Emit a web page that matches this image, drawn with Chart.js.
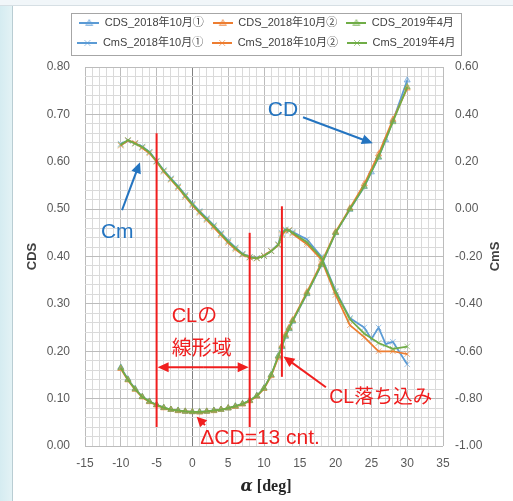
<!DOCTYPE html>
<html>
<head>
<meta charset="utf-8">
<script src="https://cdn.jsdelivr.net/npm/chart.js@4.4.0/dist/chart.umd.min.js"></script>
<style>
  html, body { margin: 0; padding: 0; }
  body {
    width: 513px; height: 501px; overflow: hidden;
    background:
      linear-gradient(#f1f6f9 0, #f1f6f9 5px, #d6dfe4 5px, #d6dfe4 6px, transparent 6px),
      linear-gradient(90deg, #d5ecf1 0, #e3f2f5 12px, #b9cdd3 12px, #b9cdd3 13px, #ffffff 13px);
  }
  canvas { display: block; }
</style>
</head>
<body>
<canvas id="myChart" width="513" height="501"></canvas>
<script>
// angle of attack [deg]
const alpha = [-10, -9, -8, -7, -6, -5, -4, -3, -2, -1, 0, 1, 2, 3, 4, 5, 6, 7, 8, 9, 10, 11, 12,
  12.5, 13, 13.5, 14, 16, 18, 20, 22, 24, 26, 28, 30];
const alphaBlue = [-10, -9, -8, -7, -6, -5, -4, -3, -2, -1, 0, 1, 2, 3, 4, 5, 6, 7, 8, 9, 10, 11, 12,
  12.5, 13, 13.5, 14, 16, 18, 20, 22, 24, 25, 26, 27, 28, 30];

// CDS (left axis)
const cdBlue = [0.166, 0.141, 0.121, 0.104, 0.094, 0.087, 0.081, 0.077, 0.075, 0.073, 0.072, 0.072, 0.073,
  0.075, 0.077, 0.080, 0.084, 0.089, 0.096, 0.106, 0.122, 0.150, 0.190,
  0.209, 0.231, 0.247, 0.263, 0.321, 0.382, 0.450, 0.499, 0.547, 0.578, 0.609, 0.646, 0.686, 0.772];
const cdOrange = [0.163, 0.139, 0.119, 0.103, 0.093, 0.086, 0.080, 0.077, 0.074, 0.073, 0.072, 0.071, 0.073,
  0.074, 0.077, 0.080, 0.083, 0.088, 0.095, 0.105, 0.121, 0.148, 0.187,
  0.212, 0.235, 0.250, 0.266, 0.325, 0.386, 0.452, 0.502, 0.553, 0.616, 0.689, 0.755];
const cdGreen = [0.165, 0.140, 0.120, 0.104, 0.094, 0.087, 0.081, 0.077, 0.075, 0.073, 0.072, 0.072, 0.073,
  0.075, 0.077, 0.080, 0.084, 0.089, 0.096, 0.106, 0.122, 0.150, 0.190,
  0.210, 0.232, 0.248, 0.264, 0.322, 0.383, 0.450, 0.500, 0.548, 0.610, 0.684, 0.758];

// CmS (right axis)
const cmBlue = [0.276, 0.288, 0.278, 0.264, 0.242, 0.204, 0.164, 0.130, 0.097, 0.060, 0.024, -0.008, -0.038,
  -0.068, -0.101, -0.133, -0.162, -0.188, -0.202, -0.206, -0.197, -0.177, -0.148,
  -0.100, -0.085, -0.092, -0.096, -0.128, -0.200, -0.345, -0.460, -0.500, -0.548, -0.500, -0.570, -0.560, -0.655];
const cmOrange = [0.268, 0.290, 0.280, 0.258, 0.236, 0.200, 0.158, 0.124, 0.090, 0.052, 0.016, -0.016, -0.046,
  -0.078, -0.110, -0.142, -0.170, -0.193, -0.205, -0.208, -0.196, -0.176, -0.152,
  -0.110, -0.092, -0.088, -0.104, -0.148, -0.212, -0.362, -0.490, -0.540, -0.600, -0.600, -0.612];
const cmGreen = [0.272, 0.292, 0.276, 0.262, 0.240, 0.202, 0.162, 0.127, 0.094, 0.057, 0.020, -0.012, -0.042,
  -0.072, -0.105, -0.137, -0.165, -0.190, -0.203, -0.208, -0.198, -0.178, -0.150,
  -0.105, -0.088, -0.090, -0.100, -0.140, -0.205, -0.350, -0.465, -0.525, -0.565, -0.590, -0.580];

const seriesNames = ["CDS_2018年10月①", "CDS_2018年10月②", "CDS_2019年4月",
  "CmS_2018年10月①", "CmS_2018年10月②", "CmS_2019年4月"];

const BLUE = "#5b9bd5", ORANGE = "#ed7d31", GREEN = "#70ad47";
const RED = "#f01e1e", NOTE_BLUE = "#2474c0";
const TXT = '"Liberation Sans", "Noto Sans CJK JP", sans-serif';

function pts(xs, ys) {
  return xs.map((a, i) => ({ x: a, y: ys[i] }));
}
function light(hex, a) {
  const n = parseInt(hex.slice(1), 16);
  return "rgba(" + (n >> 16) + "," + ((n >> 8) & 255) + "," + (n & 255) + "," + a + ")";
}

function makeIcon(color, style) {
  const c = document.createElement("canvas");
  c.width = 20; c.height = 10;
  const g = c.getContext("2d");
  g.strokeStyle = color; g.lineWidth = 2;
  g.beginPath(); g.moveTo(0, 5); g.lineTo(20, 5); g.stroke();
  g.strokeStyle = light(color, 0.6); g.fillStyle = light(color, 0.35); g.lineWidth = 1;
  g.beginPath();
  if (style === "triangle") {
    g.moveTo(10, 1.5); g.lineTo(13.5, 7.5); g.lineTo(6.5, 7.5); g.closePath(); g.fill();
  } else {
    g.moveTo(7, 2); g.lineTo(13, 8); g.moveTo(13, 2); g.lineTo(7, 8);
  }
  g.stroke();
  return c;
}

function series(i, xs, ys, color, style, axis, order) {
  return {
    label: seriesNames[i],
    data: pts(xs, ys),
    yAxisID: axis,
    showLine: true,
    borderColor: color,
    borderWidth: 1.75,
    tension: 0,
    pointStyle: style,
    pointRadius: style === "triangle" ? 3.5 : 4,
    pointBorderWidth: 1,
    pointBackgroundColor: light(color, 0.35),
    pointBorderColor: light(color, 0.6),
    order: order,
  };
}

const datasets = [
  series(0, alphaBlue, cdBlue, BLUE, "triangle", "y", 4),
  series(1, alpha, cdOrange, ORANGE, "triangle", "y", 2),
  series(2, alpha, cdGreen, GREEN, "triangle", "y", 0),
  series(3, alphaBlue, cmBlue, BLUE, "crossRot", "y2", 5),
  series(4, alpha, cmOrange, ORANGE, "crossRot", "y2", 3),
  series(5, alpha, cmGreen, GREEN, "crossRot", "y2", 1),
];
const icons = datasets.map(d => makeIcon(d.borderColor, d.pointStyle));

function arrow(ctx, x1, y1, x2, y2, color, head, hw) {
  const ang = Math.atan2(y2 - y1, x2 - x1);
  const c = Math.cos(ang), s = Math.sin(ang);
  ctx.strokeStyle = color; ctx.fillStyle = color; ctx.lineWidth = 2;
  ctx.beginPath();
  ctx.moveTo(x1, y1);
  ctx.lineTo(x2 - c * head * 0.8, y2 - s * head * 0.8);
  ctx.stroke();
  ctx.beginPath();
  ctx.moveTo(x2, y2);
  ctx.lineTo(x2 - head * c + hw * s, y2 - head * s - hw * c);
  ctx.lineTo(x2 - head * c - hw * s, y2 - head * s + hw * c);
  ctx.closePath();
  ctx.fill();
}

// annotations, in data units (alpha, CDS)
const redLines = [[-5, 0.04, 0.66], [8, 0.04, 0.45], [12.5, 0.146, 0.506]];

const notes = {
  id: "notes",
  beforeLayout(chart) {
    const lg = chart.legend;
    if (lg && !lg._gap) {
      const fit = lg.fit;
      lg.fit = function () { fit.apply(this, arguments); this.height += 8.5; };
      lg._gap = true;
    }
  },
  afterDraw(chart) {
    const { ctx, chartArea } = chart;
    const X = v => chart.scales.x.getPixelForValue(v);
    const Y = v => chart.scales.y.getPixelForValue(v);
    ctx.save();

    // legend frame
    const hb = chart.legend.legendHitBoxes;
    if (hb && hb.length) {
      const l = Math.min(...hb.map(h => h.left)) - 6;
      const r = Math.max(...hb.map(h => h.left + h.width)) + 6;
      const t = Math.min(...hb.map(h => h.top)) - 5;
      const b = Math.max(...hb.map(h => h.top + h.height)) + 6;
      ctx.strokeStyle = "#a6a6a6"; ctx.lineWidth = 1;
      ctx.strokeRect(Math.round(l) + 0.5, Math.round(t) + 0.5, Math.round(r - l), Math.round(b - t));
    }

    // red vertical lines
    ctx.strokeStyle = RED; ctx.lineWidth = 2;
    redLines.forEach(([a, lo, hi]) => {
      ctx.beginPath();
      ctx.moveTo(X(a), Y(lo));
      ctx.lineTo(X(a), Y(hi));
      ctx.stroke();
    });
    // linear range double arrow
    const ym = Y(0.166);
    const xm = (X(-5) + X(8)) / 2;
    arrow(ctx, xm, ym, X(-5) + 1, ym, RED, 11, 5);
    arrow(ctx, xm, ym, X(8) - 1, ym, RED, 11, 5);
    arrow(ctx, X(1.76), Y(0.044), X(0.6), Y(0.062), RED, 10, 5);
    arrow(ctx, X(18.65), Y(0.124), X(12.72), Y(0.189), RED, 11, 5);

    ctx.fillStyle = RED;
    ctx.textBaseline = "middle";
    ctx.font = "20px " + TXT;
    ctx.textAlign = "left";
    ctx.fillText("CLの", X(-2.9), Y(0.273));
    ctx.fillText("線形域", X(-2.9), Y(0.204));
    ctx.font = "21px " + TXT;
    ctx.fillText("ΔCD=13 cnt.", X(1.1), Y(0.017));
    ctx.font = "19.5px " + TXT;
    ctx.textAlign = "center";
    ctx.fillText("CL落ち込み", X(26.3), Y(0.103));

    // blue notes
    arrow(ctx, X(15.45), Y(0.694), X(25.2), Y(0.639), NOTE_BLUE, 11, 5);
    arrow(ctx, X(-9.83), Y(0.498), X(-7.32), Y(0.599), NOTE_BLUE, 11, 5);
    ctx.fillStyle = NOTE_BLUE;
    ctx.font = "21px " + TXT;
    ctx.fillText("CD", X(12.65), Y(0.709));
    ctx.fillText("Cm", X(-10.5), Y(0.451));

    // x axis title: α [deg]
    ctx.fillStyle = "#262626";
    ctx.textAlign = "left";
    ctx.textBaseline = "alphabetic";
    const f1 = 'italic bold 16px "DejaVu Serif", serif';
    const f2 = 'bold 16px "Liberation Serif", serif';
    ctx.font = f1; const w1 = ctx.measureText("α").width;
    ctx.font = f2; const w2 = ctx.measureText(" [deg]").width;
    const cx = (chartArea.left + chartArea.right) / 2 + 2;
    ctx.font = f1; ctx.fillText("α", cx - (w1 + w2) / 2, 491);
    ctx.font = f2; ctx.fillText(" [deg]", cx - (w1 + w2) / 2 + w1, 491);

    // right axis title
    ctx.translate(495, (chartArea.top + chartArea.bottom) / 2);
    ctx.rotate(-Math.PI / 2);
    ctx.textAlign = "center";
    ctx.textBaseline = "middle";
    ctx.fillStyle = "#404040";
    ctx.font = "bold 13px " + TXT;
    ctx.fillText("CmS", 0, 0);
    ctx.restore();
  },
};

const tickFont = { family: TXT, size: 12 };
const MAJOR = "#bcbcbc", MINOR = "#dadada";

new Chart(document.getElementById("myChart"), {
  type: "scatter",
  data: { datasets: datasets },
  plugins: [notes],
  options: {
    responsive: false,
    animation: false,
    layout: { padding: { top: 8.5, left: 20 } },
    scales: {
      x: {
        type: "linear",
        position: "bottom",
        min: -15,
        max: 35,
        ticks: {
          stepSize: 1,
          maxTicksLimit: 100,
          autoSkip: false,
          maxRotation: 0,
          padding: 10,
          color: "#595959",
          font: tickFont,
          callback: v => (v % 5 === 0 ? v : ""),
        },
        grid: {
          drawTicks: false,
          color: c => (c.tick.value === 0 ? "#808080" : c.tick.value % 5 === 0 ? MAJOR : MINOR),
        },
        border: { display: false },
        afterFit: s => { s.height = 55; },
      },
      y: {
        type: "linear",
        position: "left",
        min: 0,
        max: 0.8,
        ticks: {
          stepSize: 0.02,
          maxTicksLimit: 100,
          autoSkip: false,
          padding: 15,
          color: "#595959",
          font: tickFont,
          callback: v => (Math.round(v * 50) % 5 === 0 ? v.toFixed(2) : ""),
        },
        grid: {
          drawTicks: false,
          color: c => (Math.round(c.tick.value * 50) % 5 === 0 ? MAJOR : MINOR),
        },
        border: { display: false },
        title: {
          display: true,
          text: "CDS",
          color: "#404040",
          font: { family: TXT, size: 13, weight: "bold" },
          padding: { top: 5, bottom: 0 },
        },
        afterFit: s => { s.width = 65; },
      },
      y2: {
        type: "linear",
        position: "right",
        min: -1,
        max: 0.6,
        ticks: {
          stepSize: 0.2,
          padding: 12,
          color: "#595959",
          font: tickFont,
          callback: v => v.toFixed(2),
        },
        grid: { drawOnChartArea: false, drawTicks: false },
        border: { display: false },
        afterFit: s => { s.width = 70; },
      },
    },
    plugins: {
      tooltip: { enabled: false },
      legend: {
        position: "top",
        labels: {
          usePointStyle: true,
          pointStyleWidth: 20,
          padding: 9,
          color: "#404040",
          font: { family: TXT, size: 11 },
          sort: (a, b) => a.datasetIndex - b.datasetIndex,
          generateLabels: chart => {
            const items = Chart.defaults.plugins.legend.labels.generateLabels(chart);
            items.forEach(it => { it.pointStyle = icons[it.datasetIndex]; });
            return items;
          },
        },
      },
    },
  },
});
</script>
</body>
</html>
